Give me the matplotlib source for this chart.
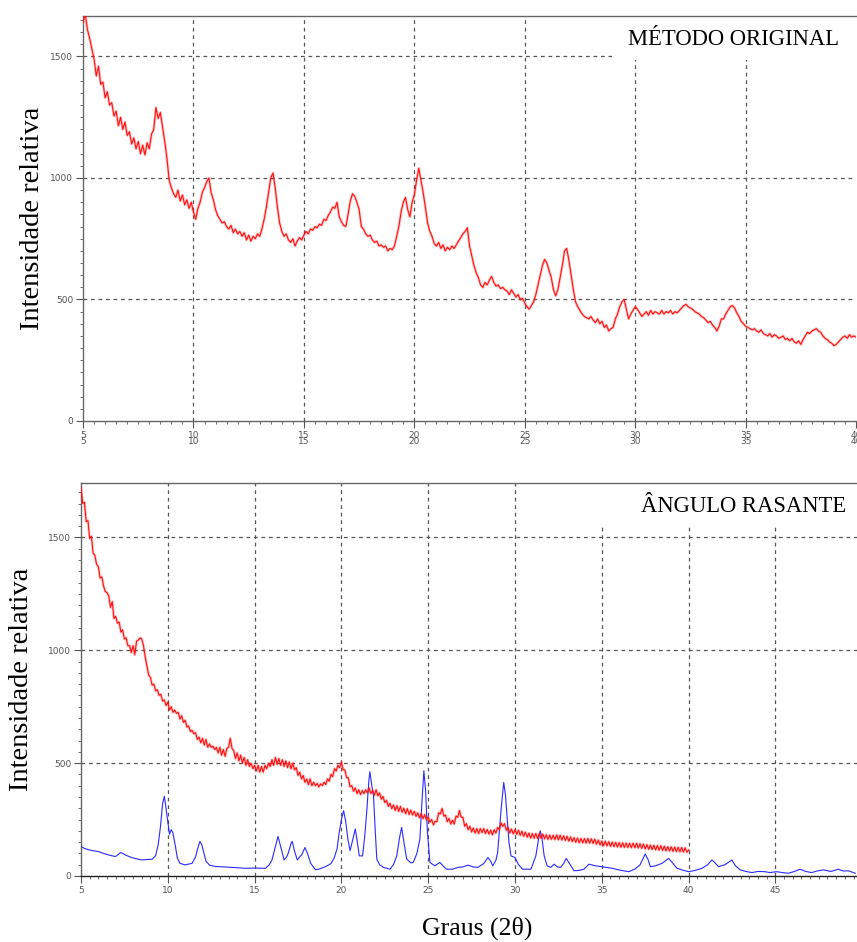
import numpy as np
import matplotlib.pyplot as plt
from matplotlib.patches import Rectangle
from matplotlib.ticker import MultipleLocator

# ---- dados (passo 0.1 grau para o vermelho) ----
orig_x = np.round(np.arange(5.0, 40.05, 0.1), 1)
orig_y = [
    1640, 1675, 1610, 1575, 1530, 1490, 1420, 1460, 1385, 1395,
    1330, 1355, 1300, 1310, 1255, 1275, 1215, 1250, 1200, 1230,
    1175, 1190, 1140, 1165, 1120, 1150, 1100, 1135, 1095, 1145,
    1120, 1180, 1200, 1290, 1245, 1270, 1210, 1150, 1080, 990,
    960, 935, 920, 950, 905, 930, 890, 910, 875, 900,
    860, 830, 875, 900, 940, 960, 985, 1000, 940, 910,
    870, 845, 830, 815, 820, 800, 790, 805, 775, 790,
    770, 780, 760, 775, 745, 765, 740, 760, 750, 770,
    760, 790, 830, 880, 940, 1000, 1020, 960, 880, 815,
    780, 760, 770, 745, 735, 750, 720, 740, 755, 745,
    765, 780, 770, 790, 785, 800, 795, 810, 805, 830,
    825, 845, 860, 880, 875, 900, 840, 820, 805, 800,
    850, 905, 935, 925, 900, 870, 800, 790, 770, 760,
    765, 745, 735, 740, 720, 725, 715, 720, 700, 710,
    705, 720, 760, 800, 860, 900, 920, 870, 840, 900,
    930, 990, 1040, 990, 940, 880, 815, 780, 760, 730,
    720, 735, 710, 725, 700, 715, 705, 720, 710, 725,
    740, 755, 770, 780, 795, 720, 680, 640, 610, 590,
    560, 550, 570, 560, 580, 595, 570, 555, 560, 545,
    550, 540, 535, 520, 540, 525, 510, 520, 500, 505,
    485, 470, 460, 475, 490, 520, 560, 600, 640, 665,
    650, 620, 590, 540, 515, 540, 590, 640, 700, 710,
    660, 600, 540, 490, 470, 455, 440, 430, 425, 420,
    430, 415, 405, 420, 400, 410, 385, 395, 370, 380,
    385, 420, 440, 470, 490, 500, 460, 420, 440, 455,
    470, 460, 445, 430, 440, 450, 435, 455, 440, 450,
    445, 440, 455, 440, 450, 445, 455, 440, 450, 445,
    455, 465, 475, 480, 470, 465, 460, 450, 445, 440,
    430, 425, 415, 405, 410, 395, 385, 370, 390, 420,
    420, 440, 455, 470, 475, 465, 445, 430, 410, 400,
    390, 385, 380, 375, 380, 370, 365, 375, 360, 355,
    350, 360, 345, 355, 350, 340, 345, 350, 335, 340,
    330, 340, 325, 320, 330, 315, 335, 350, 365, 360,
    370, 375, 380, 370, 365, 350, 340, 335, 325, 320,
    310, 315, 325, 335, 345, 350, 340, 355, 345, 350,
    345,
]

ras_x = np.round(np.arange(5.0, 40.05, 0.1), 1)
ras_y = [
    1720, 1650, 1655, 1570, 1575, 1495, 1505, 1430, 1420, 1380,
    1370, 1320, 1325, 1285, 1260, 1255, 1240, 1190, 1215, 1140,
    1150, 1120, 1125, 1080, 1090, 1050, 1055, 1020, 1020, 990,
    1020, 980, 1040, 1045, 1055, 1050, 1020, 970, 930, 890,
    880, 845, 850, 820, 825, 800, 805, 775, 780, 755,
    770, 735, 750, 725, 735, 720, 725, 695, 710, 680,
    690, 660, 665, 640, 645, 630, 635, 605, 615, 590,
    610, 580, 605, 570, 585, 570, 575, 560, 570, 545,
    570, 535, 560, 530, 565, 570, 610, 565, 555, 520,
    545, 510, 535, 500, 525, 490, 515, 485, 500, 475,
    490, 465, 490, 460, 485, 460, 490, 475, 500, 485,
    515, 490, 525, 495, 520, 490, 515, 485, 510, 480,
    505, 475, 500, 470, 480, 445, 460, 430, 445, 415,
    430, 405, 430, 400, 415, 400, 410, 395, 408, 400,
    415, 405, 430, 420, 450, 440, 475, 465, 490, 480,
    505, 470, 470, 435, 435, 395, 400, 375, 390, 365,
    382, 360, 378, 365, 382, 368, 390, 365, 380, 358,
    382, 355, 368, 340, 352, 325, 335, 308, 322, 298,
    315, 290, 312, 286, 308, 282, 300, 276, 298, 272,
    292, 270, 286, 264, 280, 258, 276, 254, 272, 248,
    262, 238, 250, 226, 242, 240, 280, 275, 299, 265,
    270, 240, 255, 230, 247, 230, 265, 260, 290, 260,
    260, 220, 232, 205, 220, 195, 212, 190, 210, 188,
    210, 192, 210, 188, 206, 185, 203, 182, 205, 190,
    215, 205, 235, 220, 232, 202, 215, 190, 208, 186,
    205, 184, 203, 180, 198, 176, 194, 172, 190, 168,
    188, 167, 188, 166, 188, 167, 185, 164, 183, 162,
    181, 162, 180, 161, 182, 160, 181, 159, 178, 157,
    176, 154, 173, 152, 170, 149, 168, 147, 166, 146,
    166, 145, 166, 145, 165, 144, 163, 141, 159, 137,
    155, 134, 154, 133, 152, 131, 150, 130, 149, 128,
    148, 127, 147, 126, 146, 126, 145, 125, 145, 125,
    145, 124, 143, 122, 141, 120, 139, 118, 137, 117,
    136, 115, 135, 114, 134, 113, 132, 111, 130, 110,
    129, 109, 128, 108, 127, 107, 126, 106, 125, 105,
    115,
]

blue_x = [5.0, 5.2, 5.44, 5.7, 6.0, 6.3, 6.6, 6.98, 7.15, 7.27, 7.4, 7.56, 7.8, 8.04,
          8.3, 8.52, 8.8, 9.1, 9.3, 9.45, 9.58, 9.7, 9.8, 9.9, 10.0, 10.1, 10.2, 10.3,
          10.44, 10.55, 10.7, 11.0, 11.4, 11.6, 11.7, 11.85, 11.95, 12.08, 12.2, 12.4,
          12.75, 13.5, 14.48, 15.0, 15.63, 15.85, 16.0, 16.2, 16.35, 16.5, 16.7, 16.85,
          16.94, 17.1, 17.17, 17.3, 17.46, 17.6, 17.71, 17.9, 18.05, 18.23, 18.5, 18.7,
          19.1, 19.4, 19.58, 19.75, 19.87, 20.0, 20.13, 20.25, 20.38, 20.5, 20.65, 20.8,
          20.92, 21.03, 21.22, 21.35, 21.47, 21.58, 21.64, 21.75, 21.85, 21.95, 22.04,
          22.2, 22.42, 22.8, 23.0, 23.19, 23.35, 23.47, 23.6, 23.76, 24.0, 24.14, 24.35,
          24.52, 24.65, 24.75, 24.85, 24.95, 25.1, 25.38, 25.67, 25.85, 26.05, 26.4,
          26.72, 27.0, 27.29, 27.6, 27.86, 28.2, 28.44, 28.6, 28.72, 28.9, 29.0, 29.2,
          29.35, 29.45, 29.54, 29.65, 29.77, 30.0, 30.2, 30.44, 30.92, 31.2, 31.35,
          31.45, 31.55, 31.68, 31.85, 32.06, 32.25, 32.45, 32.63, 32.8, 32.95, 33.1,
          33.4, 33.7, 33.97, 34.26, 34.64, 35.0, 35.3, 35.6, 36.1, 36.55, 36.9, 37.2,
          37.5, 37.65, 37.8, 38.1, 38.47, 38.85, 39.05, 39.33, 39.7, 40.0, 40.4, 40.77,
          41.1, 41.34, 41.5, 41.72, 42.1, 42.49, 42.7, 42.97, 43.3, 43.64, 44.0, 44.4,
          44.7, 45.07, 45.4, 45.75, 46.1, 46.42, 46.75, 47.09, 47.4, 47.76, 48.2, 48.62,
          48.9, 49.2, 49.6]
blue_y = [131, 122, 116, 112, 108, 100, 93, 86, 95, 104, 100, 93, 85, 79,
          74, 71, 73, 74, 90, 140, 220, 320, 353, 300, 240, 185, 205, 190,
          131, 80, 56, 49, 56, 85, 116, 153, 140, 101, 66, 48,
          42, 39, 34, 35, 34, 50, 71, 130, 175, 130, 71, 85,
          101, 145, 153, 110, 71, 85, 93, 126, 100, 56, 28, 30,
          42, 55, 79, 120, 190, 250, 289, 240, 160, 112, 160, 208,
          150, 89, 89, 180, 296, 420, 462, 400, 355, 200, 75,
          50, 38, 30, 50, 89, 170, 215, 150, 75, 58, 60, 100,
          163, 340, 466, 380, 200, 60, 45, 60, 45, 30, 30,
          38, 40, 48, 40, 38, 55, 82, 65, 45, 70, 104, 296,
          414, 360, 267, 150, 89, 82, 50, 30, 30, 89, 160,
          200, 170, 89, 45, 38, 52, 40, 38, 55, 78, 60,
          23, 25, 30, 52, 45, 41, 38, 34, 25, 19, 30, 49,
          97, 75, 41, 45, 56, 78, 60, 34, 25, 19, 25, 34,
          50, 71, 60, 41, 50, 71, 45, 27, 20, 15, 20, 19,
          15, 19, 15, 12, 20, 30, 20, 15, 22, 27, 20, 30,
          22, 23, 12]

plt.rcParams['font.family'] = ['DejaVu Sans']
serif = ['Liberation Serif', 'DejaVu Serif']
grid_kw = dict(color='#555555', linestyle=(0, (3, 3)), linewidth=0.9)
tick_col = '#555555'
red = '#ff1010'

fig = plt.figure(figsize=(8.57, 9.42), dpi=100)
ax1 = fig.add_axes([0.0969, 0.5531, 0.902, 0.4300])
ax2 = fig.add_axes([0.0945, 0.0701, 0.9055, 0.4172])


def style(ax, ymax, xmax, xt, box, pad):
    ax.set_xlim(5, xmax)
    ax.set_ylim(0, ymax)
    ax.set_yticks([0, 500, 1000, 1500])
    ax.yaxis.set_minor_locator(MultipleLocator(50))
    ax.xaxis.set_minor_locator(MultipleLocator(0.5))
    ax.set_xticks(xt)
    for v in xt[1:]:
        if v < xmax - 0.5:
            ax.axvline(v, zorder=1, **grid_kw)
    for v in [500, 1000, 1500]:
        ax.axhline(v, zorder=1, **grid_kw)
    ax.add_patch(Rectangle((box[0], box[1]), 1.1 - box[0], 1.1 - box[1],
                           transform=ax.transAxes, facecolor='white',
                           edgecolor='none', zorder=2, clip_on=False))
    ax.spines['right'].set_visible(False)
    for s in ['top', 'left', 'bottom']:
        ax.spines[s].set_color('#666666')
        ax.spines[s].set_linewidth(1.0)
    ax.tick_params(which='major', length=5, width=0.8, color=tick_col,
                   labelsize=6.5, labelcolor=tick_col, pad=2)
    ax.tick_params(which='minor', length=2.5, width=0.6, color=tick_col)
    ax.set_ylabel('Intensidade relativa', family=serif, fontsize=20.5,
                  color='black', labelpad=pad)


def fuzzy(ax, x, y):
    # traço ruidoso: halo claro + linha fina
    ax.plot(x, y, color=red, linewidth=2.0, alpha=0.25, zorder=3)
    ax.plot(x, y, color=red, linewidth=0.8, zorder=3)


# ---- painel superior ----
style(ax1, 1667, 40, [5, 10, 15, 20, 25, 30, 35, 40], (0.684, 0.89), 4)
fuzzy(ax1, orig_x, orig_y)
ax1.set_xticklabels([f'{v}\n{v}' for v in [5, 10, 15, 20, 25, 30, 35, 40]],
                    linespacing=0.55)
ax1.text(0.842, 0.941, 'MÉTODO ORIGINAL', transform=ax1.transAxes,
         family=serif, fontsize=16.3, ha='center', va='center', zorder=4)

# ---- painel inferior ----
style(ax2, 1741, 49.7, [5, 10, 15, 20, 25, 30, 35, 40, 45], (0.669, 0.888), 10)
ax2.plot(blue_x, blue_y, color='#2a2aff', linewidth=0.8, zorder=3)
fuzzy(ax2, ras_x, ras_y)
ax2.spines['bottom'].set_color('#222222')
ax2.text(0.854, 0.939, 'ÂNGULO RASANTE', transform=ax2.transAxes,
         family=serif, fontsize=16.3, ha='center', va='center', zorder=4)

fig.text(0.557, 0.0149, 'Graus (2θ)', family=serif, fontsize=18.5,
         ha='center', va='center')

fig.savefig('out.png', dpi=100)
